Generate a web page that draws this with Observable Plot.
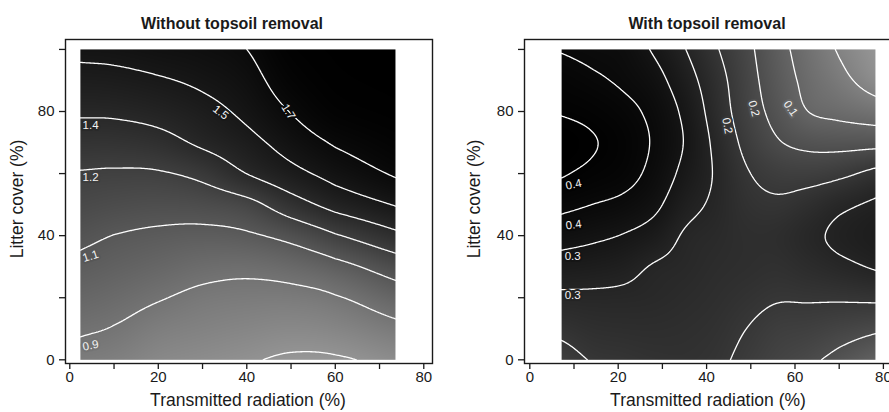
<!DOCTYPE html>
<html>
<head>
<meta charset="utf-8">
<script src="https://cdn.jsdelivr.net/npm/d3@7"></script>
<script src="https://cdn.jsdelivr.net/npm/@observablehq/plot@0.6"></script>
<style>
html, body { margin: 0; padding: 0; background: #fff; overflow: hidden; width: 889px; height: 412px; }
#wrap { position: relative; width: 889px; height: 412px; overflow: hidden; font-family: "Liberation Sans", Arial, sans-serif; }
#wrap > .panel { position: absolute; top: 0; }
#overlay { position: absolute; left: 0; top: 0; pointer-events: none; }
</style>
</head>
<body>
<div id="wrap"></div>
<script>
// ---------------- data ----------------
const titles = ["Without topsoil removal", "With topsoil removal"];
const xLabel = "Transmitted radiation (%)";
const yLabel = "Litter cover (%)";
const xTicks = [0, 10, 20, 30, 40, 50, 60, 70, 80];
const xTickLabels = [0, 20, 40, 60, 80];
const yTicks = [0, 20, 40, 60, 80, 100];
const yTickLabels = [0, 40, 80];

// grid rows (litter cover %)
const gridY = [0, 10, 20, 30, 40, 50, 60, 70, 80, 90, 100];

// Panel 1: without topsoil removal
const leftX = [2.4, 10, 20, 30, 40, 50, 60, 73.6];
const leftValues = [
  [0.861, 0.842, 0.800, 0.780, 0.760, 0.735, 0.738, 0.780],
  [0.914, 0.894, 0.850, 0.828, 0.811, 0.798, 0.813, 0.868],
  [0.968, 0.945, 0.908, 0.875, 0.863, 0.863, 0.891, 0.976],
  [1.021, 0.997, 0.968, 0.938, 0.929, 0.954, 1.009, 1.118],
  [1.076, 1.048, 1.028, 1.017, 1.033, 1.090, 1.188, 1.314],
  [1.134, 1.116, 1.104, 1.114, 1.157, 1.284, 1.399, 1.508],
  [1.192, 1.185, 1.189, 1.237, 1.351, 1.454, 1.553, 1.667],
  [1.278, 1.277, 1.302, 1.375, 1.454, 1.563, 1.667, 1.760],
  [1.368, 1.372, 1.400, 1.453, 1.533, 1.656, 1.774, 1.830],
  [1.451, 1.459, 1.486, 1.527, 1.591, 1.738, 1.830, 1.870],
  [1.535, 1.543, 1.571, 1.595, 1.650, 1.800, 1.860, 1.890]
];
const leftLevels = [0.75, 0.9, 1.05, 1.2, 1.35, 1.5, 1.65];
const leftLabelText = ["0.9", "1.1", "1.2", "1.4", "1.5", "1.7"];
const leftLabelLevel = [0.9, 1.05, 1.2, 1.35, 1.5, 1.65];
const leftLabelX = [4.7, 4.7, 4.7, 4.7, 34.1, 49.4];
const leftLabelY = [4.6, 33.4, 58.9, 75.4, 79.7, 79.9];
const leftLabelAngle = [-12, -18, 0, 0, 38, 58];

// Panel 2: with topsoil removal
const rightX = [7.2, 14, 21, 28, 35, 42, 49, 56, 63, 70, 78.2];
const rightValues = [
  [0.182, 0.202, 0.207, 0.213, 0.215, 0.208, 0.190, 0.172, 0.158, 0.137, 0.108],
  [0.211, 0.221, 0.224, 0.225, 0.222, 0.215, 0.200, 0.185, 0.180, 0.170, 0.158],
  [0.241, 0.242, 0.241, 0.237, 0.230, 0.222, 0.212, 0.203, 0.204, 0.205, 0.208],
  [0.278, 0.273, 0.265, 0.247, 0.238, 0.228, 0.222, 0.218, 0.228, 0.240, 0.254],
  [0.320, 0.310, 0.298, 0.279, 0.246, 0.234, 0.223, 0.224, 0.240, 0.258, 0.272],
  [0.363, 0.350, 0.337, 0.312, 0.267, 0.242, 0.215, 0.207, 0.220, 0.240, 0.257],
  [0.405, 0.387, 0.370, 0.335, 0.287, 0.246, 0.204, 0.184, 0.181, 0.190, 0.212],
  [0.430, 0.405, 0.380, 0.345, 0.298, 0.240, 0.188, 0.154, 0.138, 0.134, 0.135],
  [0.395, 0.383, 0.365, 0.337, 0.290, 0.229, 0.175, 0.135, 0.100, 0.088, 0.075],
  [0.371, 0.358, 0.343, 0.318, 0.272, 0.220, 0.169, 0.124, 0.088, 0.062, 0.030],
  [0.347, 0.338, 0.330, 0.295, 0.252, 0.205, 0.162, 0.116, 0.079, 0.046, 0.015]
];
const rightLevels = [0.05, 0.1, 0.15, 0.2, 0.25, 0.3, 0.35, 0.4];
const rightLabelText = ["0.4", "0.4", "0.3", "0.3", "0.2", "0.2", "0.1"];
const rightLabelLevel = [0.4, 0.35, 0.3, 0.25, 0.2, 0.15, 0.1];
const rightLabelX = [9.9, 9.9, 9.7, 9.7, 44.7, 50.7, 59.0];
const rightLabelY = [56.5, 43.5, 33.3, 20.7, 75.4, 81.0, 81.0];
const rightLabelAngle = [-12, -8, 0, 0, 80, 75, 55];

// ---------------- drawing ----------------
const FONT = "Liberation Sans, Arial, sans-serif";
const TEXT = "#1a1a1a";

function gray(t) {
  const l = Math.round(150 * Math.pow(1 - Math.max(0, Math.min(1, t)), 1.7));
  return `rgb(${l},${l},${l})`;
}

// Smooth (Catmull-Rom) spatial interpolation of a row-major grid of samples,
// handed to Plot's raster/contour marks as their `interpolate` option.
function gridInterpolator(nx, ny) {
  const frac = (p, arr) => {
    const n = arr.length, inc = arr[n - 1] > arr[0];
    for (let k = 0; k < n - 1; ++k) {
      const a = arr[k], b = arr[k + 1];
      if (inc ? p <= b : p >= b) return Math.max(0, k + (p - a) / (b - a));
    }
    return n - 1;
  };
  const cr = (p0, p1, p2, p3, t) =>
    0.5 * (2 * p1 + (-p0 + p2) * t + (2 * p0 - 5 * p1 + 4 * p2 - p3) * t * t + (-p0 + 3 * p1 - 3 * p2 + p3) * t * t * t);
  return (index, width, height, X, Y, V) => {
    const gx = [], gy = [];
    for (let j = 0; j < nx; ++j) gx.push(X[index[j]]);
    for (let i = 0; i < ny; ++i) gy.push(Y[index[i * nx]]);
    const val = (i, j) => {
      if (i < 0) return 2 * val(0, j) - val(1, j);
      if (i > ny - 1) return 2 * val(ny - 1, j) - val(ny - 2, j);
      if (j < 0) return 2 * val(i, 0) - val(i, 1);
      if (j > nx - 1) return 2 * val(i, nx - 1) - val(i, nx - 2);
      return V[index[i * nx + j]];
    };
    const fxs = new Float64Array(width), fys = new Float64Array(height);
    for (let c = 0; c < width; ++c) fxs[c] = Math.min(nx - 1, frac(c + 0.5, gx));
    for (let r = 0; r < height; ++r) fys[r] = Math.min(ny - 1, frac(r + 0.5, gy));
    const F = new Float64Array(width * height);
    for (let r = 0; r < height; ++r) {
      const fi = fys[r], i = Math.min(ny - 2, Math.floor(fi)), ti = fi - i;
      for (let c = 0; c < width; ++c) {
        const fj = fxs[c], j = Math.min(nx - 2, Math.floor(fj)), tj = fj - j;
        const rows = [];
        for (let a = -1; a <= 2; ++a)
          rows.push(cr(val(i + a, j - 1), val(i + a, j), val(i + a, j + 1), val(i + a, j + 2), tj));
        F[r * width + c] = cr(rows[0], rows[1], rows[2], rows[3], ti);
      }
    }
    return F;
  };
}

function panel({xs, values, levels, labelText, labelLevel, labelX, labelY, labelAngle,
                width, marginLeft, marginRight, xDomain}) {
  const pts = [];
  gridY.forEach((y, i) => xs.forEach((x, j) => pts.push({x, y, v: values[i][j]})));
  const flat = values.flat();
  const vmin = d3.min(flat), vmax = d3.max(flat);
  const x1 = xs[0], x2 = xs[xs.length - 1];
  const interp = gridInterpolator(xs.length, gridY.length);
  // one text mark per contour label, with a halo in the local background grey
  const labelMarks = labelText.map((t, i) =>
    Plot.text([{t, x: labelX[i], y: labelY[i]}], {
      x: "x", y: "y", text: "t", rotate: labelAngle[i],
      fill: "#f4f4f4", stroke: gray((labelLevel[i] - vmin) / (vmax - vmin)),
      strokeWidth: 4, paintOrder: "stroke", fontSize: 11.5, fontFamily: FONT
    }));
  return Plot.plot({
    width, height: 412,
    marginLeft, marginRight, marginTop: 39, marginBottom: 49,
    style: {fontFamily: FONT, fontSize: "15px", color: TEXT, background: "transparent", overflow: "visible"},
    x: {domain: xDomain},
    y: {domain: [-1.19, 103.2]},
    color: {type: "linear", domain: [vmin, vmax], interpolate: gray},
    marks: [
      Plot.raster(pts, {x: "x", y: "y", fill: "v", interpolate: interp,
        x1, x2, y1: 0, y2: 100, pixelSize: 1}),
      Plot.contour(pts, {x: "x", y: "y", value: "v", interpolate: interp,
        thresholds: levels, x1: x1 - 2.2, x2: x2 + 2.2, y1: -0.6, y2: 102.5,
        pixelSize: 1, fill: "none", stroke: "#ffffff", strokeWidth: 1.3}),
      ...labelMarks,
      Plot.frame({stroke: TEXT, strokeWidth: 1.4}),
      Plot.axisX({ticks: xTicks, tickFormat: d => xTickLabels.includes(d) ? String(d) : "",
        tickSize: 6, tickPadding: 2, label: null, stroke: TEXT, strokeWidth: 1.3}),
      Plot.axisY({ticks: yTicks, tickFormat: d => yTickLabels.includes(d) ? String(d) : "",
        tickSize: 6, tickPadding: 5, label: null, stroke: TEXT, strokeWidth: 1.3})
    ]
  });
}

const wrap = document.getElementById("wrap");

const p1 = panel({xs: leftX, values: leftValues, levels: leftLevels,
  labelText: leftLabelText, labelLevel: leftLabelLevel, labelX: leftLabelX, labelY: leftLabelY, labelAngle: leftLabelAngle,
  width: 445, marginLeft: 65, marginRight: 13, xDomain: [-0.97, 81.97]});
p1.classList.add("panel");
p1.style.left = "0px";
wrap.appendChild(p1);

const p2 = panel({xs: rightX, values: rightValues, levels: rightLevels,
  labelText: rightLabelText, labelLevel: rightLabelLevel, labelX: rightLabelX, labelY: rightLabelY, labelAngle: rightLabelAngle,
  width: 460, marginLeft: 79, marginRight: 10, xDomain: [-1.2, 82.74]});
p2.classList.add("panel");
p2.style.left = "445px";
wrap.appendChild(p2);

// titles and axis titles
const ov = d3.select(wrap).append("svg").attr("id", "overlay")
  .attr("width", 889).attr("height", 412)
  .style("font-family", FONT).style("fill", TEXT);
const titleX = [232, 707];
const xLabelX = [248, 708];
const yLabelX = [23, 480];
titles.forEach((t, i) => {
  ov.append("text").attr("x", titleX[i]).attr("y", 29).attr("text-anchor", "middle")
    .style("font-weight", "bold").style("font-size", "16px").text(t);
  ov.append("text").attr("x", xLabelX[i]).attr("y", 406).attr("text-anchor", "middle")
    .style("font-size", "17.5px").text(xLabel);
  ov.append("text").attr("transform", `translate(${yLabelX[i]},199) rotate(-90)`)
    .attr("text-anchor", "middle").style("font-size", "17.5px").text(yLabel);
});
</script>
</body>
</html>
